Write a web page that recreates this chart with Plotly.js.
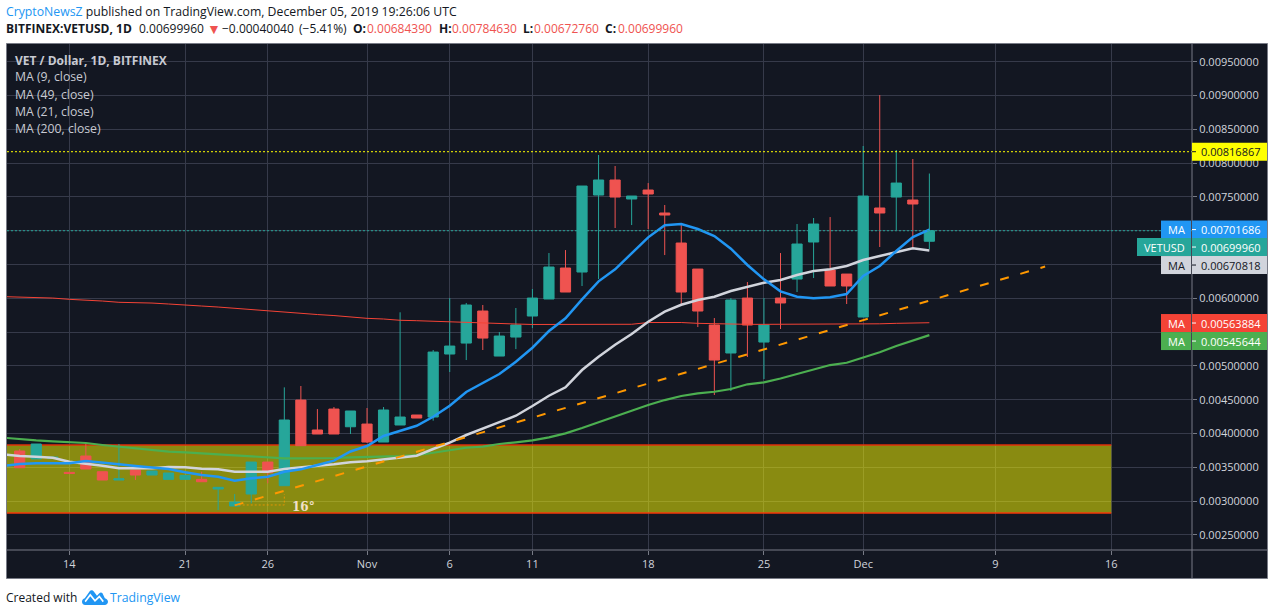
<!DOCTYPE html>
<html>
<head>
<meta charset="utf-8">
<script src="https://cdn.plot.ly/plotly-3.0.1.min.js"></script>
<style>html,body{margin:0;padding:0;background:#fff}#chart{width:1274px;height:615px}</style>
</head>
<body>
<div id="chart"></div>
<script>
const maDates = ['2019-10-10','2019-10-11','2019-10-12','2019-10-13','2019-10-14','2019-10-15','2019-10-16','2019-10-17','2019-10-18','2019-10-19','2019-10-20','2019-10-21','2019-10-22','2019-10-23','2019-10-24','2019-10-25','2019-10-26','2019-10-27','2019-10-28','2019-10-29','2019-10-30','2019-10-31','2019-11-01','2019-11-02','2019-11-03','2019-11-04','2019-11-05','2019-11-06','2019-11-07','2019-11-08','2019-11-09','2019-11-10','2019-11-11','2019-11-12','2019-11-13','2019-11-14','2019-11-15','2019-11-16','2019-11-17','2019-11-18','2019-11-19','2019-11-20','2019-11-21','2019-11-22','2019-11-23','2019-11-24','2019-11-25','2019-11-26','2019-11-27','2019-11-28','2019-11-29','2019-11-30','2019-12-01','2019-12-02','2019-12-03','2019-12-04','2019-12-05'];
const candleDates = maDates.slice(1);
const opens = [0.003741,0.003623,0.003629,0.003425,0.003667,0.003435,0.003312,0.003460,0.003386,0.003322,0.003322,0.003322,0.003179,0.002927,0.003105,0.003578,0.003228,0.004495,0.004052,0.004362,0.004100,0.004140,0.003874,0.004126,0.004274,0.004244,0.005176,0.005338,0.005812,0.005146,0.005427,0.005738,0.005990,0.006448,0.006389,0.007528,0.007750,0.007469,0.007602,0.007262,0.006818,0.006433,0.005605,0.005191,0.006004,0.005353,0.006004,0.006285,0.006833,0.006419,0.006359,0.005723,0.007336,0.007498,0.007454,0.006844];
const highs = [0.003771,0.003845,0.003652,0.003425,0.003845,0.003435,0.003845,0.003460,0.003445,0.003416,0.003381,0.003435,0.003204,0.003105,0.003578,0.003578,0.004683,0.004703,0.004362,0.004392,0.004333,0.004377,0.004392,0.005793,0.004274,0.005235,0.006004,0.005931,0.005901,0.005501,0.005857,0.006138,0.006670,0.006714,0.007661,0.008120,0.007957,0.007513,0.007705,0.007380,0.007084,0.006433,0.005708,0.006004,0.006241,0.006004,0.006670,0.007099,0.007188,0.007202,0.006359,0.008253,0.009007,0.008194,0.008061,0.007846];
const lows = [0.003490,0.003623,0.003629,0.003410,0.003475,0.003312,0.003312,0.003312,0.003386,0.003322,0.003322,0.003287,0.002868,0.002927,0.002967,0.003263,0.003228,0.003820,0.003993,0.003993,0.003993,0.003860,0.003874,0.004126,0.004229,0.004190,0.004910,0.005087,0.005235,0.005146,0.005249,0.005560,0.005990,0.006093,0.006182,0.006285,0.007040,0.007084,0.007025,0.006640,0.005901,0.005575,0.004570,0.004629,0.005132,0.004806,0.005546,0.006093,0.006300,0.006182,0.005916,0.005723,0.006759,0.007010,0.006744,0.006728];
const closes = [0.003494,0.003845,0.003652,0.003410,0.003475,0.003312,0.003330,0.003386,0.003445,0.003416,0.003381,0.003287,0.003204,0.002987,0.003578,0.003420,0.004200,0.003820,0.003993,0.003993,0.004333,0.003874,0.004348,0.004244,0.004229,0.005205,0.005294,0.005901,0.005412,0.005442,0.005605,0.006004,0.006463,0.006093,0.007661,0.007750,0.007498,0.007513,0.007543,0.007232,0.006093,0.005812,0.005087,0.005975,0.005605,0.005605,0.005931,0.006803,0.007099,0.006182,0.006182,0.007513,0.007262,0.007705,0.007395,0.007000];
const ma9 = [0.003519,0.003549,0.003559,0.003559,0.003559,0.003593,0.003574,0.003544,0.003519,0.003494,0.003475,0.003426,0.003386,0.003361,0.003302,0.003337,0.003361,0.003435,0.003470,0.003534,0.003598,0.003734,0.003815,0.003963,0.004037,0.004115,0.004248,0.004411,0.004614,0.004747,0.004880,0.005062,0.005269,0.005516,0.005704,0.005985,0.006251,0.006429,0.006666,0.006902,0.007080,0.007099,0.007025,0.006922,0.006734,0.006493,0.006281,0.006103,0.006024,0.006000,0.006015,0.006064,0.006330,0.006478,0.006700,0.006907,0.007017];
const ma21 = [0.003694,0.003667,0.003657,0.003642,0.003583,0.003559,0.003524,0.003485,0.003485,0.003485,0.003505,0.003500,0.003479,0.003470,0.003435,0.003435,0.003435,0.003475,0.003494,0.003524,0.003544,0.003574,0.003589,0.003618,0.003648,0.003672,0.003771,0.003864,0.003978,0.004077,0.004166,0.004263,0.004407,0.004559,0.004683,0.004939,0.005136,0.005313,0.005472,0.005654,0.005802,0.005905,0.005975,0.006024,0.006108,0.006167,0.006231,0.006271,0.006345,0.006404,0.006429,0.006478,0.006567,0.006626,0.006681,0.006740,0.006708];
const ma49 = [0.003938,0.003914,0.003899,0.003885,0.003870,0.003860,0.003830,0.003805,0.003771,0.003752,0.003731,0.003722,0.003707,0.003686,0.003667,0.003652,0.003638,0.003633,0.003633,0.003633,0.003638,0.003648,0.003652,0.003657,0.003667,0.003679,0.003716,0.003756,0.003790,0.003805,0.003845,0.003870,0.003899,0.003944,0.004003,0.004081,0.004170,0.004259,0.004337,0.004421,0.004495,0.004555,0.004595,0.004618,0.004658,0.004728,0.004757,0.004814,0.004880,0.004950,0.005013,0.005047,0.005127,0.005201,0.005294,0.005378,0.005456];
const ma200 = [0.006025,0.006019,0.006012,0.006004,0.005985,0.005975,0.005960,0.005941,0.005938,0.005930,0.005916,0.005896,0.005886,0.005871,0.005852,0.005827,0.005808,0.005797,0.005778,0.005760,0.005745,0.005723,0.005704,0.005694,0.005675,0.005669,0.005660,0.005645,0.005641,0.005635,0.005627,0.005620,0.005613,0.005615,0.005615,0.005616,0.005616,0.005616,0.005616,0.005642,0.005645,0.005642,0.005630,0.005623,0.005620,0.005615,0.005615,0.005615,0.005615,0.005615,0.005615,0.005615,0.005615,0.005623,0.005630,0.005632,0.005639];
const trendDates = ['2019-10-24','2019-12-12'];
const trendPrices = [0.002937,0.006470];
const angleDates = ['2019-10-24','2019-10-27'];
const anglePrices = [0.002943,0.003105];
const bandDates = ['2019-10-01','2019-12-16'];
const bandPrices = [0.002824,0.003830];
const resistance = 0.00816867;
const lastClose = 0.0069996;
const xRange = ['2019-10-10 05:35','2019-12-20 21:07'];
const yRange = [0.002277,0.009762];
const xTickVals = ['2019-10-14','2019-10-21','2019-10-26','2019-11-01','2019-11-06','2019-11-11','2019-11-18','2019-11-25','2019-12-01','2019-12-09','2019-12-16'];
const xTickText = ['14','21','26','Nov','6','11','18','25','Dec','9','16'];
const yTickVals = [0.0025,0.003,0.0035,0.004,0.0045,0.005,0.0055,0.006,0.0065,0.007,0.0075,0.008,0.0085,0.009,0.0095];
const yTickText = ['0.00250000','0.00300000','0.00350000','0.00400000','0.00450000','0.00500000','','0.00600000','','','0.00750000','0.00800000','0.00850000','0.00900000','0.00950000'];

const priceLabels = [
  {name:'MA', text:'0.00701686', price:0.00701686, shift:0, w:30, bg:'#2196f3', fg:'#ffffff'},
  {name:'VETUSD', text:'0.00699960', price:0.0069996, shift:16.3, w:54, bg:'#26a69a', fg:'#ffffff'},
  {name:'MA', text:'0.00670818', price:0.00670818, shift:14.6, w:30, bg:'#d1d4dc', fg:'#131722'},
  {name:'MA', text:'0.00563884', price:0.00563884, shift:0.3, w:30, bg:'#f44336', fg:'#ffffff'},
  {name:'MA', text:'0.00545644', price:0.00545644, shift:6, w:30, bg:'#4caf50', fg:'#ffffff'}
];

const W=1274, H=615, L=7, R=1192, T=44, B=550;
const px = v => (v-L)/(R-L);
const py = v => 1-(v-T)/(B-T);
const FONT = '"Open Sans", sans-serif';
const RED='#ef5350', TEAL='#26a69a', BLUE='#2196f3', AXIS='#787b86', BG='#131722', TXT='#c8cad2';

const traces = [
  {type:'candlestick', x:candleDates, open:opens, high:highs, low:lows, close:closes, whiskerwidth:0, hoverinfo:'skip',
   increasing:{line:{color:TEAL,width:1},fillcolor:TEAL}, decreasing:{line:{color:RED,width:1},fillcolor:RED}},
  {type:'scatter', mode:'lines', x:maDates, y:ma200, line:{color:'#f44336',width:1}, hoverinfo:'skip'},
  {type:'scatter', mode:'lines', x:maDates, y:ma49, line:{color:'#4caf50',width:2.2}, hoverinfo:'skip'},
  {type:'scatter', mode:'lines', x:maDates, y:ma21, line:{color:'#d1d4dc',width:2.5}, hoverinfo:'skip'},
  {type:'scatter', mode:'lines', x:maDates, y:ma9, line:{color:BLUE,width:2.5}, hoverinfo:'skip'},
  {type:'scatter', mode:'lines', x:trendDates, y:trendPrices, line:{color:'#ff9800',width:2,dash:'9px,12px'}, hoverinfo:'skip'},
  {type:'scatter', mode:'lines', x:[angleDates[0],angleDates[1],angleDates[1]], y:[anglePrices[0],anglePrices[0],anglePrices[1]], line:{color:'rgba(255,152,0,0.75)',width:1,dash:'2px,2px'}, hoverinfo:'skip'}
];

const shapes = [
  {type:'rect', xref:'paper', yref:'paper', x0:px(6.5), x1:px(1267.5), y0:py(578.5), y1:py(43.5), fillcolor:BG, line:{color:AXIS,width:1}, layer:'below'},
  {type:'rect', xref:'x', yref:'y', x0:bandDates[0], x1:bandDates[1], y0:bandPrices[0], y1:bandPrices[1], fillcolor:'rgba(255,255,0,0.5)', line:{width:0}, layer:'between'},
  {type:'line', xref:'x', yref:'y', x0:bandDates[0], x1:bandDates[1], y0:bandPrices[0], y1:bandPrices[0], line:{color:'#f4390a',width:1.5}, layer:'between'},
  {type:'line', xref:'x', yref:'y', x0:bandDates[0], x1:bandDates[1], y0:bandPrices[1], y1:bandPrices[1], line:{color:'#e0300a',width:1.5}, layer:'between'},
  {type:'line', xref:'paper', yref:'y', x0:0, x1:1, y0:resistance, y1:resistance, line:{color:'#ffff00',width:1,dash:'2px,2px'}},
  {type:'line', xref:'paper', yref:'y', x0:0, x1:1, y0:lastClose, y1:lastClose, line:{color:TEAL,width:1,dash:'2px,2px'}},
  {type:'line', xref:'paper', yref:'paper', x0:1, x1:1, y0:py(578), y1:py(44), line:{color:AXIS,width:1}},
  {type:'line', xref:'paper', yref:'paper', x0:0, x1:px(1267), y0:0, y1:0, line:{color:AXIS,width:1}},
  {type:'rect', xref:'paper', xsizemode:'pixel', xanchor:1, x0:0, x1:75, yref:'y', ysizemode:'pixel', yanchor:resistance, y0:-9, y1:9, fillcolor:'#ffff00', line:{width:0}},
  {type:'line', xref:'paper', xsizemode:'pixel', xanchor:1, x0:0, x1:4, yref:'y', y0:resistance, y1:resistance, line:{color:'#131722',width:1}}
];
const annotations = [];
function text(x,y,t,opt){
  annotations.push(Object.assign({xref:'paper',yref:'paper',x:px(x),y:py(y),text:t,showarrow:false,xanchor:'left',yanchor:'middle',
    font:{family:FONT,size:12,color:'#131722'},borderpad:0,borderwidth:0},opt||{}));
}
const span=(c,s)=>`<span style="color:${c}">${s}</span>`;
const redFont={font:{family:FONT,size:12,color:RED}};
text(6,12,span(BLUE,'CryptoNewsZ')+' published on TradingView.com, December 05, 2019 19:26:06 UTC',{font:{family:FONT,size:12.25,color:'#131722'}});
text(6,29,'<b>BITFINEX:VETUSD, 1D</b>');
text(138.5,29,'0.00699960');
text(207,29,'▼',{font:{family:FONT,size:14,color:RED}});
text(222,29,'−0.00040040');
text(299,29,'(−5.41%)');
text(353,29,'<b>O:</b>');
text(367,29,'0.00684390',redFont);
text(438.5,29,'<b>H:</b>');
text(452,29,'0.00784630',redFont);
text(523,29,'<b>L:</b>');
text(534,29,'0.00672760',redFont);
text(605,29,'<b>C:</b>');
text(617.5,29,'0.00699960',redFont);
text(6,597,'Created with');
text(110,597,span(BLUE,'TradingView'),{font:{family:FONT,size:12.25,color:BLUE}});
text(14.5,60,'<b>VET / Dollar, 1D, BITFINEX</b>',{font:{family:FONT,size:12,color:TXT}});
['MA (9, close)','MA (49, close)','MA (21, close)','MA (200, close)'].forEach((s,i)=>text(14.5,77+17*i,s,{font:{family:FONT,size:12.25,color:TXT}}));
annotations.push({xref:'x',yref:'y',x:'2019-10-27 09:00',y:0.002914,text:'<b>16°</b>',showarrow:false,xanchor:'left',yanchor:'middle',borderpad:0,font:{family:'"DejaVu Serif", serif',size:12,color:'#f1e0c8'}});

priceLabels.forEach(l=>{
  shapes.push({type:'rect', xref:'paper', xsizemode:'pixel', xanchor:1, x0:-l.w-1, x1:-1, yref:'y', ysizemode:'pixel', yanchor:l.price, y0:-l.shift-9, y1:-l.shift+9, fillcolor:l.bg, line:{width:0}});
  shapes.push({type:'rect', xref:'paper', xsizemode:'pixel', xanchor:1, x0:0, x1:75, yref:'y', ysizemode:'pixel', yanchor:l.price, y0:-l.shift-9, y1:-l.shift+9, fillcolor:l.bg, line:{width:0}});
  shapes.push({type:'line', xref:'paper', xsizemode:'pixel', xanchor:1, x0:0, x1:4, yref:'y', ysizemode:'pixel', yanchor:l.price, y0:-l.shift, y1:-l.shift, line:{color:l.fg,width:1}});
  annotations.push({xref:'paper',yref:'y',x:1,y:l.price,xshift:-5,yshift:-l.shift,xanchor:'right',yanchor:'middle',text:l.name,showarrow:false,font:{family:FONT,size:11,color:l.fg}});
  annotations.push({xref:'paper',yref:'y',x:1,y:l.price,xshift:7,yshift:-l.shift,xanchor:'left',yanchor:'middle',text:l.text,showarrow:false,font:{family:FONT,size:11,color:l.fg}});
});
annotations.push({xref:'paper',yref:'y',x:1,y:resistance,xshift:7,xanchor:'left',yanchor:'middle',text:'0.00816867',showarrow:false,font:{family:FONT,size:11,color:'#131722'}});

const layout = {
  width:W, height:H, showlegend:false, paper_bgcolor:'#ffffff', plot_bgcolor:BG,
  margin:{l:L, r:W-R, t:T, b:H-B, pad:0}, boxgap:0.12, boxmode:'overlay', dragmode:false,
  xaxis:{type:'date', range:xRange, rangeslider:{visible:false}, tickmode:'array', tickvals:xTickVals, ticktext:xTickText,
    showgrid:true, gridcolor:'#363a4a', gridwidth:1, ticks:'outside', ticklen:4, tickcolor:AXIS, tickfont:{family:FONT,size:11,color:'#d1d4dc'}, zeroline:false, showline:false, automargin:false},
  yaxis:{type:'linear', side:'right', range:yRange, tickmode:'array', tickvals:yTickVals, ticktext:yTickText,
    showgrid:true, gridcolor:'#363a4a', gridwidth:1, ticks:'outside', ticklen:4, tickcolor:AXIS, tickfont:{family:FONT,size:11,color:'#d1d4dc'}, zeroline:false, showline:false, automargin:false},
  shapes:shapes, annotations:annotations,
  images:[{source:'data:image/svg+xml;utf8,'+encodeURIComponent('<svg xmlns="http://www.w3.org/2000/svg" width="33" height="19" viewBox="0 0 33 19"><path d="M4 19C1.5 19 0 17 0 15c0-2 1.5-3.5 3.5-4L10 2.5C11 1 13.5 1 15 3l4 5 3-3c1-1 3-1 4 0l3 6c2 .5 4 2 4 4s-2 4-4 4H4z" fill="#2196f3"/><path d="M4 15l6.5-8 6 7 5.5-5 5 6" fill="none" stroke="#fff" stroke-width="2"/></svg>'),
    xref:'paper', yref:'paper', x:px(82), y:py(589), sizex:px(108)-px(82), sizey:py(589)-py(605), xanchor:'left', yanchor:'top', sizing:'stretch', layer:'above'}]
};
Plotly.newPlot('chart', traces, layout, {staticPlot:true, displayModeBar:false});
</script>
</body>
</html>
